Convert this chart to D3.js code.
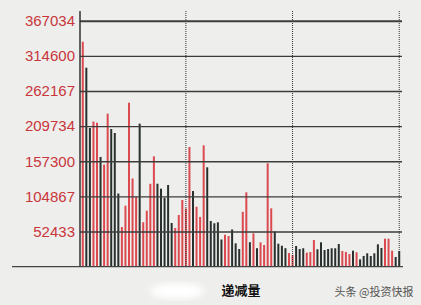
<!DOCTYPE html>
<html>
  <head>
    <meta charset="utf-8">
    <title>递减量</title>
    <script src="https://d3js.org/d3.v7.min.js"></script>
    <style>
      html, body { margin: 0; padding: 0; background: #eeeeec; }
      svg { display: block; }
    </style>
  </head>
  <body>
    <div id="chart"></div>
    <script>
      // tick labels on the left
      const tickValues = [52433, 104867, 157300, 209734, 262167, 314600, 367034];

      // bar heights left to right
      const values = [
        335700, 296900, 206900, 216600, 214800, 163700, 152200, 228300, 205400, 199500,
        109200, 59200, 91000, 244700, 131600, 104400, 213400, 66400, 83600, 123700,
        164700, 123800, 116400, 102800, 121900, 65200, 57700, 77100, 99500, 86800,
        178600, 112900, 89500, 74200, 181100, 148300, 68200, 64800, 66200, 40600,
        47700, 45800, 55500, 34900, 26400, 81900, 111000, 36600, 49800, 27600,
        36400, 32400, 154300, 87100, 52500, 34300, 31300, 27600, 20400, 17500,
        30900, 26400, 27500, 20900, 21900, 39800, 26000, 36400, 24900, 26400,
        27500, 27500, 33900, 23400, 21900, 18900, 23900, 21500, 11000, 16000,
        20000, 16000, 20000, 33400, 27900, 41800, 41800, 23900, 14500, 23400
      ];

      // r = red (up), d = dark (down)
      const colors = (
        "rddrrdrrdddrrrrrdrrrrdddddrrrrrdrrrddddd" +
        "rrdddrrdrdrrrrddddrrdddrrrddddddd" +
        "rrrdrdddddddrrrdd"
      ).split("");

      // every 30th bar gets a dotted marker
      const markers = [30, 60, 90];

      const W = 421, H = 305;
      const svg = d3.select("#chart")
        .append("svg")
        .attr("width", W)
        .attr("height", H);

      const x = d3.scaleBand()
        .domain(d3.range(1, values.length + 1))
        .range([81, 401])
        .paddingInner(0.44)
        .paddingOuter(0.22);

      const y = d3.scaleLinear()
        .domain([0, 367034])
        .range([266.7, 20.7]);

      // bars
      svg.append("g")
        .selectAll("rect")
        .data(values)
        .join("rect")
        .attr("x", (d, i) => x(i + 1))
        .attr("y", d => y(d))
        .attr("width", x.bandwidth())
        .attr("height", d => y(0) - y(d))
        .attr("fill", (d, i) => colors[i] === "r" ? "#dc4a50" : "#27302c");

      // gridlines + labels
      const yAxis = d3.axisLeft(y)
        .tickValues(tickValues)
        .tickSize(-(402 - 80))
        .tickPadding(5)
        .tickFormat(d => String(d));

      const gy = svg.append("g")
        .attr("transform", "translate(80,0)")
        .call(yAxis);
      gy.select(".domain").remove();
      gy.selectAll(".tick line")
        .attr("stroke", "#3c3c3c")
        .attr("stroke-width", d => d === 367034 ? 2 : 1.4);
      gy.selectAll(".tick text")
        .attr("fill", "#c8363c")
        .attr("font-family", "'Liberation Sans', Arial, sans-serif")
        .attr("font-size", 15);

      // dotted markers
      svg.append("g")
        .selectAll("line")
        .data(markers)
        .join("line")
        .attr("x1", d => x(d) + x.bandwidth() / 2)
        .attr("x2", d => x(d) + x.bandwidth() / 2)
        .attr("y1", 11)
        .attr("y2", y(0))
        .attr("stroke", "#333")
        .attr("stroke-width", 1)
        .attr("stroke-dasharray", "1,1");

      // axis lines
      svg.append("line")
        .attr("x1", 80).attr("x2", 80)
        .attr("y1", 11).attr("y2", y(0))
        .attr("stroke", "#333").attr("stroke-width", 1.5);
      svg.append("line")
        .attr("x1", 12).attr("x2", 403)
        .attr("y1", y(0)).attr("y2", y(0))
        .attr("stroke", "#444").attr("stroke-width", 1.2);

      // blurred patch left of the caption
      const defs = svg.append("defs");
      defs.append("filter").attr("id", "blur")
        .append("feGaussianBlur").attr("stdDeviation", 3);
      svg.append("ellipse")
        .attr("cx", 177).attr("cy", 291)
        .attr("rx", 27).attr("ry", 8)
        .attr("fill", "#ffffff")
        .attr("filter", "url(#blur)");

      svg.append("text")
        .attr("x", 241).attr("y", 295)
        .attr("text-anchor", "middle")
        .attr("font-family", "'Noto Sans CJK SC', sans-serif")
        .attr("font-weight", "bold")
        .attr("font-size", 13)
        .attr("fill", "#111")
        .text("递减量");

      svg.append("text")
        .attr("x", 374).attr("y", 296)
        .attr("text-anchor", "middle")
        .attr("font-family", "'Noto Sans CJK SC', sans-serif")
        .attr("font-size", 11)
        .attr("fill", "#555")
        .text("头条 @投资快报");
    </script>
  </body>
</html>
